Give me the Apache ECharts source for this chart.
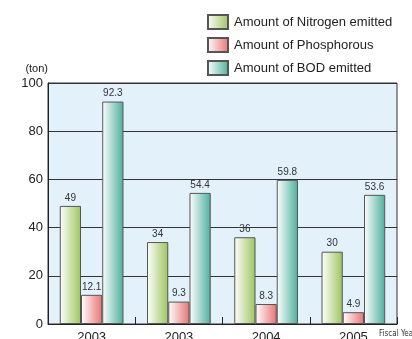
<!DOCTYPE html>
<html>
<head>
<meta charset="utf-8">
<script src="https://cdn.jsdelivr.net/npm/echarts@6/dist/echarts.min.js"></script>
<style>
  html, body { margin: 0; padding: 0; background: #fff; }
  #chart { width: 412px; height: 339px; }
</style>
</head>
<body>
<div id="chart"></div>
<script>
// Fiscal years and emitted amounts (ton)
const years = ['2003', '2003', '2004', '2005'];
const nitrogen = [49, 34, 36, 30];
const phosphorous = [12.1, 9.3, 8.3, 4.9];
const bod = [92.3, 54.4, 59.8, 53.6];
const yTicks = [0, 20, 40, 60, 80, 100];

const font = 'Liberation Sans, Arial, sans-serif';

function grad(end) {
  return new echarts.graphic.LinearGradient(0, 0, 1, 0, [
    { offset: 0, color: '#ffffff' },
    { offset: 1, color: end }
  ]);
}

function barSeries(name, data, end) {
  return {
    name: name,
    type: 'bar',
    data: data,
    barGap: '0%',
    barCategoryGap: '27%',
    itemStyle: { color: grad(end), borderColor: '#555', borderWidth: 1 },
    label: {
      show: true, position: 'top', distance: 3,
      color: '#333', fontSize: 10, fontFamily: font
    }
  };
}

const chart = echarts.init(document.getElementById('chart'), null, { renderer: 'canvas' });
chart.setOption({
  animation: false,
  backgroundColor: '#ffffff',
  textStyle: { fontFamily: font },
  grid: {
    left: 48, right: 15, top: 83, bottom: 15,
    outerBoundsMode: 'none',
    show: true, backgroundColor: '#e3f1fb', borderColor: '#333', borderWidth: 1
  },
  legend: {
    orient: 'vertical', left: 207, top: 14, padding: 0,
    icon: 'rect',
    itemWidth: 20, itemHeight: 14, itemGap: 7,
    textStyle: { fontSize: 13, color: '#222', fontFamily: font, padding: [0, 0, 0, 1] },
    data: ['Amount of Nitrogen emitted', 'Amount of Phosphorous', 'Amount of BOD emitted']
  },
  xAxis: {
    type: 'category',
    data: years,
    axisLine: { lineStyle: { color: '#222', width: 1 } },
    axisTick: { show: true, inside: true, length: 7, lineStyle: { color: '#222' } },
    axisLabel: { color: '#222', fontSize: 13, margin: 7, fontFamily: font }
  },
  yAxis: {
    type: 'value',
    min: yTicks[0], max: yTicks[yTicks.length - 1], interval: 20,
    name: '(ton)',
    nameLocation: 'end',
    nameGap: 9,
    nameTextStyle: { color: '#222', fontSize: 11, align: 'right', fontFamily: font },
    axisLine: { show: true, lineStyle: { color: '#222' } },
    axisTick: { show: false },
    axisLabel: { color: '#222', fontSize: 13, margin: 5, fontFamily: font },
    splitLine: { lineStyle: { color: '#333', width: 1 } }
  },
  graphic: [{
    type: 'text', left: 379, top: 330,
    style: { text: 'Fiscal Year', fontSize: 8, fill: '#333', fontFamily: 'Liberation Sans Narrow, DejaVu Sans Condensed, sans-serif' }
  }],
  series: [
    barSeries('Amount of Nitrogen emitted', nitrogen, '#9dc45e'),
    barSeries('Amount of Phosphorous', phosphorous, '#e87373'),
    barSeries('Amount of BOD emitted', bod, '#4daf9c')
  ]
});
</script>
</body>
</html>
